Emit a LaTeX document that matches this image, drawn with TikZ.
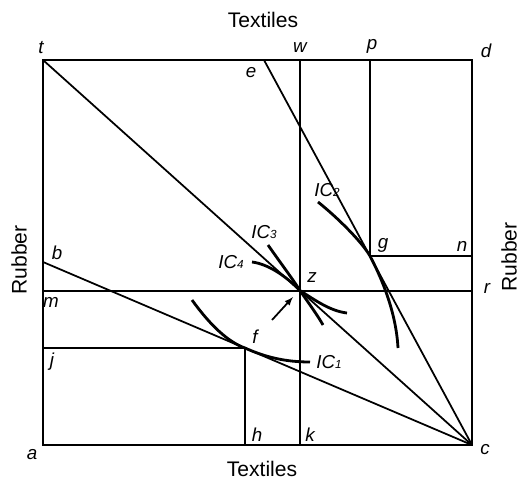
\documentclass[tikz,border=0pt]{standalone}
\usepackage{fontspec}
\setmainfont{Liberation Sans}
\usepackage{tikz}

\begin{document}
\begin{tikzpicture}[x=0.3mm,y=-0.3mm,
    boxline/.style={line width=1.8pt},
    thinline/.style={line width=1.5pt},
    ic/.style={line width=2.4pt},
    pt/.style={font=\fontsize{16}{18}\selectfont\itshape, inner sep=0pt},
    axlbl/.style={font=\fontsize{18}{20}\selectfont, inner sep=0pt}]
  \useasboundingbox (0,0) rectangle (521,484);
  % corners of the box
  \coordinate (a) at (43,445);
  \coordinate (t) at (43,60);
  \coordinate (d) at (472,60);
  \coordinate (c) at (472,445);
  % points on the edges
  \coordinate (b) at (43,262);
  \coordinate (e) at (264,60);
  \coordinate (w) at (300,60);
  \coordinate (k) at (300,445);
  \coordinate (p) at (370,60);
  \coordinate (g) at (370,256);
  \coordinate (n) at (472,256);
  \coordinate (z) at (intersection of t--c and w--k);
  \coordinate (m) at (z -| a);
  \coordinate (r) at (z -| c);
  \coordinate (f) at (245,348);
  \coordinate (j) at (f -| a);
  \coordinate (h) at (f |- a);
  \coordinate (arrtail) at (272,320);
  \coordinate (arrhead) at (293,297);

  \draw[boxline] (a) -- (t) -- (d) -- (c) -- cycle;
  \draw[thinline] (t) -- (c);
  \draw[thinline] (e) -- (c);
  \draw[thinline] (b) -- (c);
  \draw[thinline] (w) -- (k);
  \draw[thinline] (p) -- (g) -- (n);
  \draw[thinline] (m) -- (r);
  \draw[thinline] (j) -- (f) -- (h);
  \draw[thinline,-latex] (arrtail) -- (arrhead);

  % indifference curves
  \draw[ic] (192,300) .. controls (210,325) and (228,342) .. (f)
            .. controls (265,357) and (285,362) .. (310,362);
  \draw[ic] (318,202) .. controls (338,218) and (362,242) .. (g)
            .. controls (380,275) and (396,310) .. (398,348);
  \draw[ic] (268,245) .. controls (282,265) and (292,278) .. (z)
            .. controls (310,305) and (318,316) .. (323,325);
  \draw[ic] (252,262) .. controls (268,264) and (286,276) .. (z)
            .. controls (315,300) and (330,311) .. (347,313);

  % labels
  \node[pt] (tl) at (41,48) {t};
  \node[pt] (wl) at (300,48) {w};
  \node[pt] (pl) at (372,46) {p};
  \node[pt] (dl) at (486,51) {d};
  \node[pt] (el) at (251,73) {e};
  \node[pt] (bl) at (57,253) {b};
  \node[pt] (ml) at (51,302) {m};
  \node[pt] (jl) at (52,362) {j};
  \node[pt] (al) at (32,455) {a};
  \node[pt] (hl) at (257,435) {h};
  \node[pt] (kl) at (310,435) {k};
  \node[pt] (cl) at (485,450) {c};
  \node[pt] (gl) at (383,245) {g};
  \node[pt] (nl) at (462,246) {n};
  \node[pt] (zl) at (312,278) {z};
  \node[pt] (rl) at (487,288) {r};
  \node[pt] (fl) at (255,337) {f};
  \node[pt] (ic1) at (329,362) {IC{\fontsize{10}{10}\selectfont 1}};
  \node[pt] (ic2) at (327,190) {IC{\fontsize{10}{10}\selectfont 2}};
  \node[pt] (ic3) at (264,232) {IC{\fontsize{10}{10}\selectfont 3}};
  \node[pt] (ic4) at (231,262) {IC{\fontsize{10}{10}\selectfont 4}};
  \node[axlbl] (toptex) at (263,20) {Textiles};
  \node[axlbl] (bottex) at (262,469) {Textiles};
  \node[axlbl,rotate=90] (leftrub) at (19,260) {Rubber};
  \node[axlbl,rotate=90] (rightrub) at (509,257) {Rubber};
\end{tikzpicture}
\end{document}
